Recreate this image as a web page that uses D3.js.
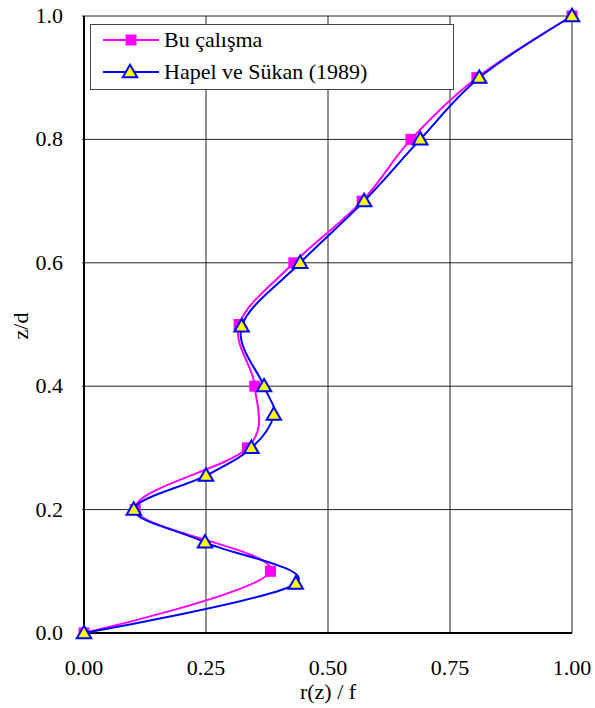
<!DOCTYPE html>
<html>
<head>
<script src="https://d3js.org/d3.v7.min.js"></script>
<style>
body { margin: 0; background: #fff; }
</style>
</head>
<body>
<svg width="595" height="708" font-family="'Liberation Serif', 'DejaVu Serif', serif"></svg>
<script>

// Bu çalışma (pink squares)
var zPink = [0, 0.1, 0.2, 0.3, 0.4, 0.5, 0.6, 0.7, 0.8, 0.9, 1.0];
var rPink = [0, 0.382, 0.105, 0.335, 0.35, 0.318, 0.43, 0.57, 0.67, 0.805, 1.0];

// Hapel ve Sükan (1989) (blue triangles)
var zBlue = [0, 0.08, 0.147, 0.2, 0.255, 0.3, 0.354, 0.4, 0.497, 0.6, 0.7, 0.8, 0.9, 1.0];
var rBlue = [0, 0.434, 0.248, 0.102, 0.25, 0.343, 0.389, 0.369, 0.323, 0.443, 0.574, 0.689, 0.81, 1.0];

var xTicks = [0, 0.25, 0.5, 0.75, 1.0];
var yTicks = [0, 0.2, 0.4, 0.6, 0.8, 1.0];
var seriesNames = ["Bu çalışma", "Hapel ve Sükan (1989)"];

var svg = d3.select("svg");
var plotLeft = 84, plotRight = 572, plotTop = 16, plotBottom = 633;

var x = d3.scaleLinear().domain([0, 1]).range([plotLeft, plotRight]);
var y = d3.scaleLinear().domain([0, 1]).range([plotBottom, plotTop]);

// grid
var grid = svg.append("g");
grid.selectAll(".gx").data(xTicks).enter().append("line")
	.attr("x1", function(d) { return x(d); }).attr("x2", function(d) { return x(d); })
	.attr("y1", plotTop).attr("y2", plotBottom)
	.attr("stroke", "#222").attr("stroke-width", 1);
grid.selectAll(".gy").data(yTicks).enter().append("line")
	.attr("x1", plotLeft - 2).attr("x2", plotRight)
	.attr("y1", function(d) { return y(d); }).attr("y2", function(d) { return y(d); })
	.attr("stroke", "#222").attr("stroke-width", 1);

// axes lines
svg.append("line").attr("x1", plotLeft).attr("x2", plotLeft).attr("y1", plotTop).attr("y2", plotBottom + 1)
	.attr("stroke", "#000").attr("stroke-width", 2);
svg.append("line").attr("x1", plotLeft - 1).attr("x2", plotRight).attr("y1", plotBottom).attr("y2", plotBottom)
	.attr("stroke", "#000").attr("stroke-width", 2);

// tick labels
svg.append("g").selectAll("text").data(xTicks).enter().append("text")
	.attr("x", function(d) { return x(d); })
	.attr("y", 675)
	.attr("text-anchor", "middle")
	.attr("font-size", 22)
	.text(function(d) { return d3.format(".2f")(d); });

svg.append("g").selectAll("text").data(yTicks).enter().append("text")
	.attr("x", 63)
	.attr("y", function(d) { return y(d) + 7; })
	.attr("text-anchor", "end")
	.attr("font-size", 22)
	.text(function(d) { return d3.format(".1f")(d); });

// axis titles
svg.append("text").attr("x", (plotLeft + plotRight) / 2).attr("y", 699)
	.attr("text-anchor", "middle").attr("font-size", 22).text("r(z) / f");
svg.append("text").attr("transform", "translate(28," + 326 + ") rotate(-90)")
	.attr("text-anchor", "middle").attr("font-size", 22).text("z/d");

var curve = d3.curveCatmullRom.alpha(0);
var pinkPts = zPink.map(function(z, i) { return [rPink[i], z]; });
var bluePts = zBlue.map(function(z, i) { return [rBlue[i], z]; });
var line = d3.line()
	.x(function(d) { return x(d[0]); })
	.y(function(d) { return y(d[1]); })
	.curve(curve);

svg.append("path").datum(pinkPts).attr("d", line)
	.attr("fill", "none").attr("stroke", "#ff00ff").attr("stroke-width", 2);
svg.append("g").selectAll("rect").data(pinkPts).enter().append("rect")
	.attr("x", function(d) { return x(d[0]) - 5.5; })
	.attr("y", function(d) { return y(d[1]) - 5.5; })
	.attr("width", 11).attr("height", 11)
	.attr("fill", "#ff00ff");

svg.append("path").datum(bluePts).attr("d", line)
	.attr("fill", "none").attr("stroke", "#0000ff").attr("stroke-width", 2);

var tri = d3.symbol().type(d3.symbolTriangle).size(90);
svg.append("g").selectAll("path").data(bluePts).enter().append("path")
	.attr("d", tri)
	.attr("transform", function(d) { return "translate(" + x(d[0]) + "," + (y(d[1]) + 1) + ")"; })
	.attr("fill", "#ffff00").attr("stroke", "#0000ff").attr("stroke-width", 2);

// legend
var legend = svg.append("g");
legend.append("rect").attr("x", 90.5).attr("y", 24.5).attr("width", 363).attr("height", 65)
	.attr("fill", "#fff").attr("stroke", "#444").attr("stroke-width", 1);
var ly = [40, 72];
legend.append("line").attr("x1", 103).attr("x2", 159).attr("y1", ly[0]).attr("y2", ly[0])
	.attr("stroke", "#ff00ff").attr("stroke-width", 2);
legend.append("rect").attr("x", 125.5).attr("y", ly[0] - 5.5).attr("width", 11).attr("height", 11)
	.attr("fill", "#ff00ff");
legend.append("line").attr("x1", 103).attr("x2", 159).attr("y1", ly[1]).attr("y2", ly[1])
	.attr("stroke", "#0000ff").attr("stroke-width", 2);
legend.append("path").attr("d", tri)
	.attr("transform", "translate(130," + (ly[1] + 1) + ")")
	.attr("fill", "#ffff00").attr("stroke", "#0000ff").attr("stroke-width", 2);
legend.selectAll("text.lbl").data(seriesNames).enter().append("text")
	.attr("x", 164)
	.attr("y", function(d, i) { return ly[i] + 7; })
	.attr("font-size", 22)
	.text(function(d) { return d; });

</script>
</body>
</html>
